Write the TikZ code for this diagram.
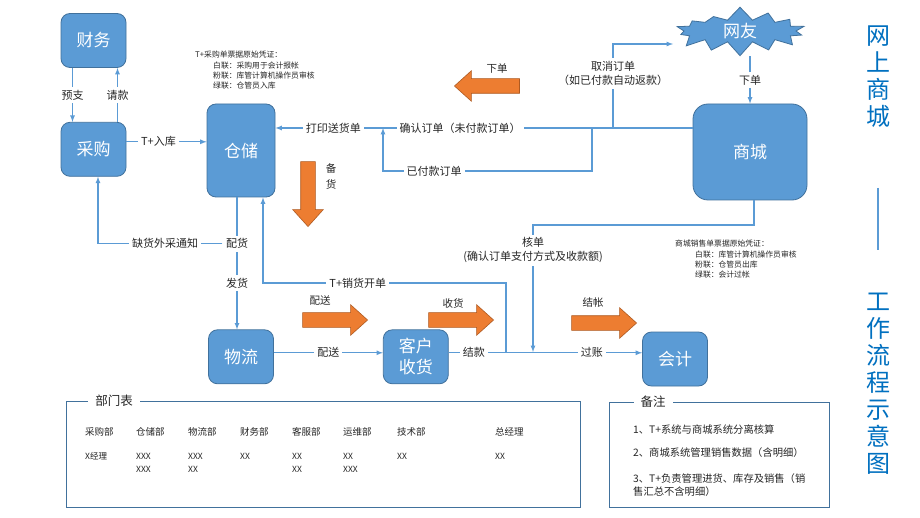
\documentclass[tikz,border=0pt]{standalone}
\usepackage{fontspec}
\setmainfont{Noto Sans CJK SC}
\usetikzlibrary{positioning,arrows,shapes,shapes.arrows,shapes.symbols}
\definecolor{boxblue}{HTML}{5B9BD5}
\definecolor{boxline}{HTML}{41719C}
\definecolor{arrorange}{HTML}{ED7D31}
\definecolor{arrline}{HTML}{AE5A21}
\definecolor{titleblue}{HTML}{0070C0}
\definecolor{txtgray}{HTML}{262626}
\tikzstyle{dbox}=[rectangle, rounded corners=9pt, draw=boxline, line width=0.8pt,
                  fill=boxblue, text=white, font=\fontsize{17}{21}\selectfont,
                  minimum width=65pt, minimum height=54pt, inner sep=2pt, align=center]
\tikzstyle{pline}=[-, draw=boxblue, line width=1.2pt]
\tikzstyle{parrow}=[pline, -latex]
\tikzstyle{lbl}=[fill=white, inner sep=3pt, text=txtgray, font=\fontsize{11}{14}\selectfont]
\tikzstyle{olbl}=[text=txtgray, inner sep=0pt, font=\fontsize{10.5}{16}\selectfont, align=center]
\tikzstyle{obig}=[single arrow, draw=arrline, fill=arrorange, line width=0.6pt,
                  minimum height=65pt, single arrow head extend=8pt,
                  single arrow tip angle=84, inner sep=7pt]
\tikzstyle{note}=[anchor=north west, inner sep=0pt, align=left, text=txtgray,
                  font=\fontsize{7.8}{10.3}\selectfont]
\tikzstyle{frame}=[draw=boxline, line width=0.9pt]
\tikzstyle{ftitle}=[fill=white, inner xsep=7pt, text=txtgray, font=\fontsize{12.5}{14}\selectfont]
\tikzstyle{tcell}=[anchor=west, inner sep=0pt, text=txtgray, font=\fontsize{9.5}{12}\selectfont]
\tikzstyle{xcell}=[anchor=west, inner sep=0pt, text=txtgray, font=\fontsize{8.5}{11}\selectfont]
\tikzstyle{remark}=[anchor=west, inner sep=0pt, align=left, text=txtgray,
                    font=\fontsize{10.3}{13}\selectfont]
\tikzstyle{vtitle}=[text=titleblue, inner sep=0pt, align=center, font=\fontsize{24}{27}\selectfont]

\begin{document}
\begin{tikzpicture}[x=1pt, y=-1pt, node distance=0pt]
\fill[white] (0,0) rectangle (920,518);
\useasboundingbox (0,0) rectangle (920,518);

% main boxes
\node (CW) [dbox] at (93.5,40.5) {财务};
\node (CG) [dbox, below=54pt of CW] {采购};
\node (CC) [dbox, minimum width=68pt, minimum height=93pt] at (241,150.5) {仓储};
\node (WL) [dbox, below=132pt of CC] {物流};
\node (KH) [dbox, right=109pt of WL] {客户\\收货};
\node (KJ) [dbox] at (675,359) {会计};
\node (SC) [dbox, rounded corners=15pt, minimum width=114pt, minimum height=96pt] at (750,152) {商城};
\node (WY) [starburst, starburst points=14, starburst point height=14pt, random starburst=7,
            fill=boxblue, draw=boxline, line width=0.8pt, text=white,
            font=\fontsize{17}{21}\selectfont, minimum width=140pt, minimum height=50pt,
            inner sep=0pt] at (740,31) {网友};

% junctions
\coordinate (R1) at (0,128);
\coordinate (J1) at (592,128);
\coordinate (J2) at (383,128);
\coordinate (J5) at (613,128);
\coordinate (WYin) at (673,44);
\coordinate (J3) at (506,352);
\coordinate (J4) at (533,352);

% connectors
\draw[parrow] ([xshift=-21pt]CW.south) -- node[lbl]{预支} ([xshift=-21pt]CG.north);
\draw[parrow] ([xshift=24pt]CG.north) -- node[lbl]{请款} ([xshift=24pt]CW.south);
\draw[parrow] ([yshift=7.5pt]CG.east) -- node[lbl,pos=0.4]{T+入库} ([yshift=7.5pt]CG.east -| CC.west);
\draw[parrow] (SC.west |- R1) -- node[lbl,pos=0.557]{确认订单（未付款订单）}
              node[lbl,pos=0.861]{打印送货单} (CC.east |- R1);
\draw[parrow] (J1) -- (J1 |- 0,171) -- node[lbl,pos=0.756]{已付款订单} (J2 |- 0,171) -- (J2);
\draw[parrow] (J5) -- node[lbl,pos=0.65,align=center]{取消订单\\（如已付款自动返款）} (J5 |- WYin) -- (WYin);
\draw[parrow] (SC.north |- WY.south) -- node[lbl]{下单} (SC.north);
\draw[parrow] ([xshift=4pt]SC.south) |- (J4 |- 0,225) -- node[lbl,pos=0.2,align=center]{核单\\(确认订单支付方式及收款额)} (J4);
\draw[parrow] ([xshift=-4pt]CC.south) -- node[lbl,pos=0.35](PHL){配货}
              node[lbl,pos=0.65]{发货} ([xshift=-4pt]CC.south |- WL.north);
\draw[parrow] (PHL.west) -| node[lbl,pos=0.23]{缺货外采通知} ([xshift=4.5pt]CG.south);
\draw[parrow] (J3) -- (J3 |- 0,283) -| node[lbl,pos=0.305]{T+销货开单} ([xshift=22pt]CC.south);
\draw[parrow] ([yshift=4pt]WL.east) -- node[lbl]{配送} ([yshift=4pt]WL.east -| KH.west);
\draw[parrow] ([yshift=4pt]KH.east) -- node[lbl,pos=0.13]{结款} node[lbl,pos=0.74]{过账}
              ([yshift=4pt]KH.east -| KJ.west);

% orange block arrows
\node (ODX) [obig, shape border rotate=180] at (491,86) {};
\node (OBH) [obig, shape border rotate=270] at (308,190) {};
\node (OPS) [obig] at (331,320) {};
\node (OSH) [obig] at (457,320) {};
\node (OJZ) [obig] at (600,323) {};
\node (LDX) [olbl] at (497,69) {下单};
\node (LBH) [olbl] at (331,176) {备\\货};
\node (LPS) [olbl] at (320,301) {配送};
\node (LSH) [olbl] at (453,303) {收货};
\node (LJZ) [olbl] at (593,303) {结帐};

% voucher notes
\node (NCG) [note] at (195,51) {T+采购单票据原始凭证：\\
  \hspace*{18pt}白联：采购用于会计报帐\\
  \hspace*{18pt}粉联：库管计算机操作员审核\\
  \hspace*{18pt}绿联：仓管员入库};
\node (NSC) [note] at (675,240) {商城销售单票据原始凭证：\\
  \hspace*{20pt}白联：库管计算机操作员审核\\
  \hspace*{20pt}粉联：仓管员出库\\
  \hspace*{20pt}绿联：会计过帐};

% department table
\draw[frame] (66,401) rectangle (580,507);
\node (BMB) [ftitle] at (114,401) {部门表};
\foreach \cx/\dep/\va/\vb in {85/采购部/X经理/,136/仓储部/XXX/XXX,188/物流部/XXX/XX,
    240/财务部/XX/,292/客服部/XX/XX,343/运维部/XX/XXX,397/技术部/XX/,495/总经理/XX/}{
  \node (DH\cx) [tcell] at (\cx,432) {\dep};
  \node (DA\cx) [xcell] at (\cx,456) {\va};
  \node (DB\cx) [xcell] at (\cx,469) {\vb};
}

% remarks
\draw[frame] (609,402) rectangle (829,507);
\node (BZ) [ftitle] at (653,402) {备注};
\node (BZ1) [remark] at (633,430) {1、T+系统与商城系统分离核算};
\node (BZ2) [remark] at (633,453) {2、商城系统管理销售数据（含明细）};
\node (BZ3) [remark] at (633,485.5) {3、T+负责管理进货、库存及销售（销\\售汇总不含明细）};

% side title
\node (TT1) [vtitle] at (878,77) {网\\上\\商\\城};
\node (TT2) [vtitle] at (878,384) {工\\作\\流\\程\\示\\意\\图};
\coordinate (VT1) at (878,188);
\coordinate (VT2) at (878,250);
\draw[draw=boxblue, line width=2pt] (VT1) -- (VT2);

\end{tikzpicture}
\end{document}
